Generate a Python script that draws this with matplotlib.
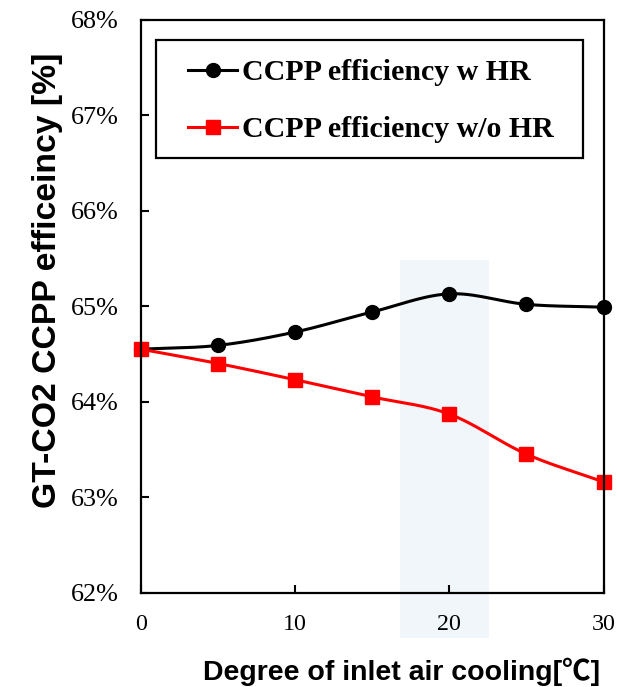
import numpy as np
import matplotlib
matplotlib.use("Agg")
import matplotlib.pyplot as plt
from matplotlib.patches import Rectangle
from matplotlib.ticker import FuncFormatter

# ---- data ----
cooling = [0, 5, 10, 15, 20, 25, 30]
eff_with_hr = [64.55, 64.59, 64.73, 64.94, 65.13, 65.02, 64.99]
eff_without_hr = [64.55, 64.40, 64.23, 64.05, 63.87, 63.45, 63.16]
label_with = "CCPP efficiency w HR"
label_without = "CCPP efficiency w/o HR"
x_ticks = [0, 10, 20, 30]
y_ticks = [62, 63, 64, 65, 66, 67, 68]
highlight_span = (16.8, 22.6)

SERIF = ["Liberation Serif", "DejaVu Serif"]
SANS = ["Liberation Sans", "Noto Sans CJK JP", "DejaVu Sans"]


def smooth(x, y, n=30):
    """Catmull-Rom style smoothing (like a spreadsheet's smoothed line)."""
    x = np.asarray(x, float)
    y = np.asarray(y, float)
    px = np.concatenate([[2 * x[0] - x[1]], x, [2 * x[-1] - x[-2]]])
    py = np.concatenate([[2 * y[0] - y[1]], y, [2 * y[-1] - y[-2]]])
    xs, ys = [], []
    t = np.linspace(0, 1, n)
    for i in range(1, len(px) - 2):
        p0, p1, p2, p3 = (np.array([px[j], py[j]]) for j in range(i - 1, i + 3))
        c1 = p1 + (p2 - p0) / 6.0
        c2 = p2 - (p3 - p1) / 6.0
        b = ((1 - t) ** 3)[:, None] * p1 + (3 * (1 - t) ** 2 * t)[:, None] * c1 \
            + (3 * (1 - t) * t ** 2)[:, None] * c2 + (t ** 3)[:, None] * p2
        xs.append(b[:, 0])
        ys.append(b[:, 1])
    return np.concatenate(xs), np.concatenate(ys)


plt.rcParams["font.family"] = SERIF

W, H = 617, 687
fig = plt.figure(figsize=(W / 100, H / 100), dpi=100)
ax_l, ax_r, ax_t, ax_b = 141, 603.5, 20, 592.5
ax = fig.add_axes([ax_l / W, (H - ax_b) / H, (ax_r - ax_l) / W, (ax_b - ax_t) / H])

ax.set_xlim(0, 30)
ax.set_ylim(62, 68)

# highlight band (extends below the axis, behind tick label)
ax.add_patch(Rectangle((highlight_span[0], 61.52), highlight_span[1] - highlight_span[0],
                       65.48 - 61.52, facecolor="#f1f6fb", edgecolor="none",
                       zorder=0, clip_on=False))

sx, sy = smooth(cooling, eff_with_hr)
ax.plot(sx, sy, color="black", lw=2.2, zorder=3, solid_capstyle="round")
ax.plot(cooling, eff_with_hr, "o", color="black", ms=10, zorder=4, clip_on=False)
ax.plot([], [], "-o", color="black", lw=2.2, ms=10, label=label_with)

sx, sy = smooth(cooling, eff_without_hr)
ax.plot(sx, sy, color="#ff0000", lw=2.2, zorder=3, solid_capstyle="round")
ax.plot(cooling, eff_without_hr, "s", color="#ff0000", ms=10.5, zorder=5, clip_on=False)
ax.plot([], [], "-s", color="#ff0000", lw=2.2, ms=10.5, label=label_without)

ax.set_xticks(x_ticks)
ax.set_yticks(y_ticks)
ax.yaxis.set_major_formatter(FuncFormatter(lambda v, p: f"{v:.0f}%"))
ax.tick_params(direction="in", length=5.8, width=1.5, top=False, right=False)
ax.tick_params(axis="y", pad=16, labelsize=18.8)
ax.tick_params(axis="x", pad=15.5, labelsize=17.3)
for s in ax.spines.values():
    s.set_linewidth(1.6)
    s.set_zorder(6)

ax.set_ylabel("GT-CO2 CCPP efficeincy [%]", fontsize=24.3, fontweight="bold", family=SANS)
ax.yaxis.set_label_coords(-0.203, 0.545)
ax.yaxis.label.set_va("center")
ax.set_xlabel("Degree of inlet air cooling[℃]", fontsize=20.5, fontweight="bold", family=SANS)
ax.xaxis.set_label_coords(0.564, -0.138)
ax.xaxis.label.set_va("center")

# legend: entries without frame, separate rectangular border
fs_leg = 21.5
leg = ax.legend(loc="upper left",
                bbox_to_anchor=(188 / W, 1 - 59 / H), bbox_transform=fig.transFigure,
                borderaxespad=0, borderpad=0, frameon=False,
                prop={"family": SERIF, "weight": "bold", "size": fs_leg},
                handlelength=1.65, handletextpad=0.17, labelspacing=1.02)
leg.set_zorder(7)
ax.add_patch(Rectangle((156 / W, 1 - 158 / H), 427 / W, 118 / H, transform=fig.transFigure,
                       fill=False, edgecolor="black", lw=1.6, zorder=7, clip_on=False))

fig.savefig("out.png", dpi=100)
